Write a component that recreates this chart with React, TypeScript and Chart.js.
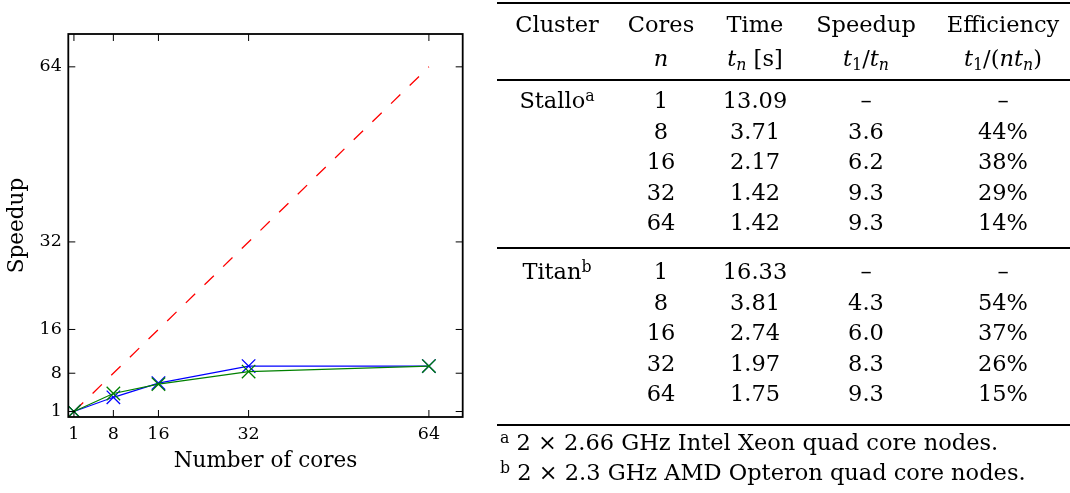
import React, { useEffect, useRef } from 'react';
import { Chart, registerables } from 'chart.js';

Chart.register(...registerables);

// Benchmark results per cluster (cores, wall time, speedup, efficiency %)
const CORES = [1, 8, 16, 32, 64];
const STALLO_TIME = [13.09, 3.71, 2.17, 1.42, 1.42];
const STALLO_SPEEDUP = [1, 3.6, 6.2, 9.3, 9.3];
const STALLO_EFFICIENCY = [100, 44, 38, 29, 14];
const TITAN_TIME = [16.33, 3.81, 2.74, 1.97, 1.75];
const TITAN_SPEEDUP = [1, 4.3, 6.0, 8.3, 9.3];
const TITAN_EFFICIENCY = [100, 54, 37, 26, 15];

// Ideal linear speedup reference
const IDEAL_CORES = [1, 64];
const IDEAL_SPEEDUP = [1, 64];

const X_TICKS = [1, 8, 16, 32, 64];
const Y_TICKS = [1, 8, 16, 32, 64];

const HEADERS = ['Cluster', 'Cores', 'Time', 'Speedup', 'Efficiency'];
const CLUSTER_NAMES = ['Stallo', 'Titan'];
const CLUSTER_MARKS = ['a', 'b'];
const FOOTNOTES = [
  '2 × 2.66 GHz Intel Xeon quad core nodes.',
  '2 × 2.3 GHz AMD Opteron quad core nodes.',
];

const PLOT_FONT = '"DejaVu Serif", serif';
const TABLE_FONT = '"DejaVu Serif"';

// Draws the closed axes frame plus inward-pointing ticks on all four sides.
const axesFrame = {
  id: 'axesFrame',
  afterDraw(chart: any) {
    const { ctx, chartArea: a, scales } = chart;
    const len = 7;
    ctx.save();
    ctx.strokeStyle = '#000';
    ctx.lineWidth = 1;
    ctx.beginPath();
    for (const v of X_TICKS) {
      const px = scales.x.getPixelForValue(v);
      ctx.moveTo(px, a.bottom);
      ctx.lineTo(px, a.bottom - len);
      ctx.moveTo(px, a.top);
      ctx.lineTo(px, a.top + len);
    }
    for (const v of Y_TICKS) {
      const py = scales.y.getPixelForValue(v);
      ctx.moveTo(a.left, py);
      ctx.lineTo(a.left + len, py);
      ctx.moveTo(a.right, py);
      ctx.lineTo(a.right - len, py);
    }
    ctx.stroke();
    ctx.lineWidth = 1.8;
    ctx.strokeRect(a.left, a.top, a.right - a.left, a.bottom - a.top);
    ctx.restore();
  },
};

const toPoints = (xs: number[], ys: number[]) => xs.map((x, i) => ({ x, y: ys[i] }));

function SpeedupChart() {
  const ref = useRef<HTMLCanvasElement | null>(null);
  useEffect(() => {
    if (!ref.current) return;
    const chart = new Chart(ref.current, {
      type: 'line',
      data: {
        datasets: [
          {
            label: 'Titan',
            data: toPoints(CORES, TITAN_SPEEDUP),
            borderColor: '#008000',
            backgroundColor: '#008000',
            borderWidth: 1.2,
            pointStyle: 'crossRot',
            pointRadius: 9.5,
            pointBorderWidth: 1.3,
            pointBorderColor: '#008000',
            order: 1,
          },
          {
            label: 'Stallo',
            data: toPoints(CORES, STALLO_SPEEDUP),
            borderColor: '#0000ff',
            backgroundColor: '#0000ff',
            borderWidth: 1.2,
            pointStyle: 'crossRot',
            pointRadius: 9.5,
            pointBorderWidth: 1.3,
            pointBorderColor: '#0000ff',
            order: 2,
          },
          {
            label: 'Ideal',
            data: toPoints(IDEAL_CORES, IDEAL_SPEEDUP),
            borderColor: '#ff0000',
            borderWidth: 1.3,
            borderDash: [13, 13],
            pointRadius: 0,
            order: 3,
          },
        ],
      },
      options: {
        responsive: false,
        animation: false,
        events: [],
        layout: { padding: { top: 34, right: 17.3, left: 0, bottom: 0 } },
        plugins: { legend: { display: false }, tooltip: { enabled: false } },
        scales: {
          x: {
            type: 'linear',
            min: 0,
            max: 70,
            afterBuildTicks: (s: any) => {
              s.ticks = X_TICKS.map((value) => ({ value }));
            },
            afterFit: (s: any) => {
              s.height = 76;
            },
            grid: { display: false, drawTicks: false },
            border: { display: false },
            ticks: {
              color: '#000',
              font: { family: PLOT_FONT, size: 17.5 },
              padding: 7,
              maxRotation: 0,
              autoSkip: false,
            },
            title: {
              display: true,
              text: 'Number of cores',
              color: '#000',
              font: { family: PLOT_FONT, size: 21.5 },
              padding: { top: 0, bottom: 19 },
            },
          },
          y: {
            type: 'linear',
            min: 0,
            max: 70,
            afterBuildTicks: (s: any) => {
              s.ticks = Y_TICKS.map((value) => ({ value }));
            },
            afterFit: (s: any) => {
              s.width = 68.3;
            },
            grid: { display: false, drawTicks: false },
            border: { display: false },
            ticks: {
              color: '#000',
              font: { family: PLOT_FONT, size: 17.5 },
              padding: 6.5,
              autoSkip: false,
            },
            title: {
              display: true,
              text: 'Speedup',
              color: '#000',
              font: { family: PLOT_FONT, size: 21.5 },
              padding: { top: 5, bottom: 0 },
            },
          },
        },
      },
      plugins: [axesFrame],
    });
    return () => chart.destroy();
  }, []);
  return (
    <canvas
      ref={ref}
      width={480}
      height={493}
      style={{ position: 'absolute', left: 0, top: 0, width: 480, height: 493 }}
    />
  );
}

const Sub = ({ children, italic }: { children: React.ReactNode; italic?: boolean }) => (
  <span style={{ fontSize: '0.7em', position: 'relative', top: '0.28em', fontStyle: italic ? 'italic' : 'normal' }}>
    {children}
  </span>
);

const Sup = ({ children }: { children: React.ReactNode }) => (
  <span style={{ fontSize: '0.7em', position: 'relative', top: '-0.45em' }}>{children}</span>
);

function Cell({ x, y, children }: { x: number; y: number; children: React.ReactNode }) {
  return (
    <div
      style={{
        position: 'absolute',
        left: x,
        top: y - 16,
        height: 30,
        lineHeight: '30px',
        transform: 'translateX(-50%)',
        whiteSpace: 'nowrap',
      }}
    >
      {children}
    </div>
  );
}

function Rule({ y, thick }: { y: number; thick: number }) {
  return (
    <div
      style={{
        position: 'absolute',
        left: 497,
        width: 573,
        top: y - thick / 2,
        height: thick,
        background: '#000',
      }}
    />
  );
}

function ResultsTable() {
  const colX = [557, 661, 755, 866, 1003];
  const groups = [
    { time: STALLO_TIME, speedup: STALLO_SPEEDUP, eff: STALLO_EFFICIENCY, y0: 101 },
    { time: TITAN_TIME, speedup: TITAN_SPEEDUP, eff: TITAN_EFFICIENCY, y0: 272 },
  ];
  const step = 30.6;
  const units = [
    null,
    <i>n</i>,
    <>
      <i>t</i>
      <Sub italic>n</Sub> [s]
    </>,
    <>
      <i>t</i>
      <Sub>1</Sub>/<i>t</i>
      <Sub italic>n</Sub>
    </>,
    <>
      <i>t</i>
      <Sub>1</Sub>/(<i>nt</i>
      <Sub italic>n</Sub>)
    </>,
  ];
  return (
    <div style={{ position: 'absolute', left: 0, top: 0, width: 1070, height: 493, fontFamily: TABLE_FONT, fontSize: 22.5, color: '#000' }}>
      <Rule y={2.5} thick={2} />
      {HEADERS.map((h, i) => (
        <Cell key={'h' + i} x={colX[i]} y={25}>
          {h}
        </Cell>
      ))}
      {units.map((u, i) =>
        u ? (
          <Cell key={'u' + i} x={colX[i]} y={59}>
            {u}
          </Cell>
        ) : null
      )}
      <Rule y={80} thick={1.3} />
      {groups.map((g, gi) => (
        <React.Fragment key={'g' + gi}>
          <Cell x={colX[0]} y={g.y0}>
            {CLUSTER_NAMES[gi]}
            <Sup>{CLUSTER_MARKS[gi]}</Sup>
          </Cell>
          {CORES.map((n, r) => (
            <React.Fragment key={'r' + r}>
              <Cell x={colX[1]} y={g.y0 + r * step}>{n}</Cell>
              <Cell x={colX[2]} y={g.y0 + r * step}>{g.time[r].toFixed(2)}</Cell>
              <Cell x={colX[3]} y={g.y0 + r * step}>{r === 0 ? '–' : g.speedup[r].toFixed(1)}</Cell>
              <Cell x={colX[4]} y={g.y0 + r * step}>{r === 0 ? '–' : g.eff[r] + '%'}</Cell>
            </React.Fragment>
          ))}
        </React.Fragment>
      ))}
      <Rule y={248} thick={1.3} />
      <Rule y={425} thick={2} />
      {FOOTNOTES.map((f, i) => (
        <div
          key={'f' + i}
          style={{ position: 'absolute', left: 500, top: 443 + i * 30 - 16, height: 30, lineHeight: '30px', whiteSpace: 'nowrap' }}
        >
          <Sup>{CLUSTER_MARKS[i]}</Sup> {f}
        </div>
      ))}
    </div>
  );
}

export default function App() {
  return (
    <div style={{ position: 'fixed', left: 0, top: 0, width: 1070, height: 493, background: '#fff', overflow: 'hidden' }}>
      <SpeedupChart />
      <ResultsTable />
    </div>
  );
}
